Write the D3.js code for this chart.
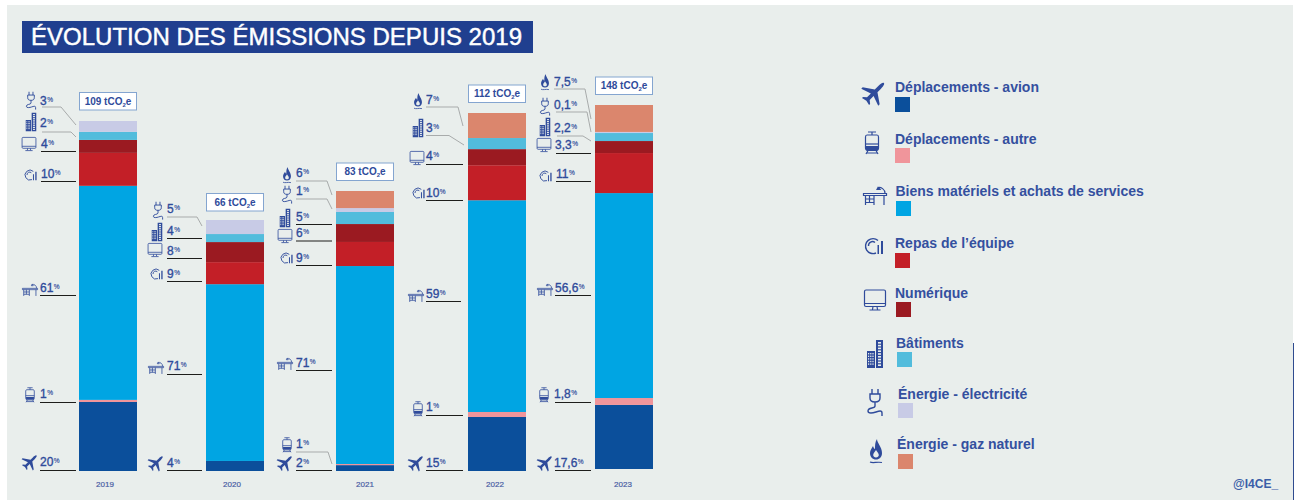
<!DOCTYPE html>
<html lang="fr">
<head>
<meta charset="utf-8">
<style>
html,body{margin:0;padding:0;background:#fff}
svg{display:block}
text{font-family:"Liberation Sans",Arial,sans-serif}
</style>
<script src="https://cdn.jsdelivr.net/npm/d3@7/dist/d3.min.js"></script>
</head>
<body>
<svg id="chart" width="1294" height="500"></svg>
<script>
// ---------- DATA ----------
const years = ["2019","2020","2021","2022","2023"];
const totals = [109,66,83,112,148];
const title = "ÉVOLUTION DES ÉMISSIONS DEPUIS 2019";
const credit = "@I4CE_";
const seriesKeys = ["avion","autre","biens","repas","num","bat","elec","gaz"];
const seriesNames = ["Déplacements - avion","Déplacements - autre","Biens matériels et achats de services","Repas de l’équipe","Numérique","Bâtiments","Énergie - électricité","Énergie - gaz naturel"];
const seriesColors = ["#0b4f9b","#f0959b","#00a5e3","#c31f27","#9b1a21","#52bcdc","#c8cbe6","#db866d"];

// share of each bar (%)
const avion = [19.7,4.0,2.1,15.1,17.6];
const autre = [0.6,0,0.4,1.4,1.9];
const biens = [61.1,70.5,70.7,59.2,56.3];
const repas = [9.4,8.8,8.6,9.8,11.0];
const num   = [3.7,8.0,6.4,4.5,3.3];
const bat   = [2.3,3.2,4.3,3.1,2.2];
const elec  = [3.1,5.6,1.4,0,0.3];
const gaz   = [0,0,6.1,7.0,7.4];

// printed labels
const labelsAvion = ["20","4","2","15","17,6"];
const labelsAutre = ["1",null,"1","1","1,8"];
const labelsBiens = ["61","71","71","59","56,6"];
const labelsRepas = ["10","9","9","10","11"];
const labelsNum   = ["4","8","6","4","3,3"];
const labelsBat   = ["2","4","5","3","2,2"];
const labelsElec  = ["3","5","1",null,"0,1"];
const labelsGaz   = [null,null,"6","7","7,5"];

const shares = {avion,autre,biens,repas,num,bat,elec,gaz};
const labels = {avion:labelsAvion,autre:labelsAutre,biens:labelsBiens,repas:labelsRepas,num:labelsNum,bat:labelsBat,elec:labelsElec,gaz:labelsGaz};

// ---------- LAYOUT ----------
const W = 1294, H = 500;
const INK = "#2f4b9b", PANEL = "#e9eeec";
const barWidth = 58, baseline = 471;
const barLeft = d3.scaleOrdinal(years,[79,206,336,468,595]);
const baseShift = d3.scaleOrdinal(years,[0,0,0,0,-2]);
// the bars of the original are not on a linear axis: piecewise scale from total to bar height
const barHeight = d3.scaleLinear().domain([0,66,83,109,112,148]).range([0,251,280,350,358,364]);
const boxTop = d3.scaleOrdinal(years,[92.5,193.5,163,85,77]);
const yearX = d3.scaleOrdinal(years,[105,232,365,495,623]);

// per label: text x, text baseline, icon centre, line points
const annot = {
 "2019":{
  elec:[40,105,31,101,[[42,107],[61,107],[76,125]]],
  bat:[40,127,31,122,[[42,132],[71,132],[76,137]]],
  num:[41,148,29,144,[[41,151.5],[76,151.5]]],
  repas:[41,178,30,175,[[41,181.5],[76,181.5]]],
  biens:[40,292,30,290,[[40,295.5],[76,295.5]]],
  autre:[40,398,30,395,[[40,402.5],[76,402.5]]],
  avion:[40,466,30,462,[[40,470.5],[76,470.5]]]},
 "2020":{
  elec:[167,213,158,211,[[167,217],[197,217],[202,226]]],
  bat:[167,235,157,232,[[167,238.5],[202,238.5]]],
  num:[167,255,155,250,[[167,258.5],[202,258.5]]],
  repas:[167,278,156,274,[[167,281.5],[202,281.5]]],
  biens:[167,370,156,368,[[167,374.5],[202,374.5]]],
  avion:[167,467,156,463,[[167,470.5],[202,470.5]]]},
 "2021":{
  gaz:[296,177,287,175,[[296,181],[327,181],[332,195]]],
  elec:[296,195,287,195,[[296,199],[327,199],[332,209]]],
  bat:[296,221,285,218,[[296,224.5],[332,224.5]]],
  num:[296,237,285,236,[[296,241],[332,241]]],
  repas:[296,262,286,258,[[296,265.5],[332,265.5]]],
  biens:[296,367,285,364,[[296,370.5],[332,370.5]]],
  autre:[296,448,287,445,[[296,452],[328,452],[332,464]]],
  avion:[296,467,285,463,[[296,470.5],[332,470.5]]]},
 "2022":{
  gaz:[426,104,418,101,[[426,107],[458,107],[463,126]]],
  bat:[426,132,418,128,[[426,135.5],[449,135.5],[464,145]]],
  num:[426,160,417,158,[[426,164.5],[463,164.5]]],
  repas:[426,197,418,193,[[426,200.5],[463,200.5]]],
  biens:[426,298,416,296,[[426,301.5],[461,301.5]]],
  autre:[426,411,418,409,[[426,415.5],[463,415.5]]],
  avion:[426,467,416,463,[[426,470.5],[463,470.5]]]},
 "2023":{
  gaz:[554,86,545,82,[[554,89],[585,89],[591,119]]],
  elec:[554,109,545,107,[[556,112],[587,112],[591,132]]],
  bat:[554,132,545,127,[[557,136],[583,136],[591,141]]],
  num:[555,149,544,145,[[556,153.5],[591,153.5]]],
  repas:[556,178,545,176,[[556,181.5],[591,181.5]]],
  biens:[555,292,545,290,[[555,295.5],[591,295.5]]],
  autre:[554,398,544,395,[[555,402.5],[591,402.5]]],
  avion:[554,467,545,463,[[555,470.5],[591,470.5]]]}
};
// legend: icon centre, text x & baseline, swatch x & y
const legendLayout = {
 avion:[874,93,895,92,895,97],
 autre:[872,143,895,144,895,148],
 biens:[875,196,895.5,196,896,201],
 repas:[873,246,895,248,895,253],
 num:[875,300,895,298,896,302],
 bat:[875,354,896,348,897,352],
 elec:[875,403,898,399,898,403],
 gaz:[876,451,897,449,898,454]
};

// ---------- ICONS (drawn at legend size, centred on 0,0) ----------
function drawIcon(g,key){
  const s = a=>g.append("path").attr("d",a).attr("fill","none").attr("stroke",INK).attr("stroke-width",1.2);
  const f = a=>g.append("path").attr("d",a).attr("fill",INK);
  if(key==="avion"){
    f("M0,-14 C1.4,-14 1.9,-11 1.9,-8 L1.9,-3 L12,4 L12,6 L1.9,2.5 L1.9,8 L5,10.5 L5,12 L0,10.8 L-5,12 L-5,10.5 L-1.9,8 L-1.9,2.5 L-12,6 L-12,4 L-1.9,-3 L-1.9,-8 C-1.9,-11 -1.4,-14 0,-14Z").attr("transform","rotate(45)");
  } else if(key==="autre"){
    s("M-4,-11H4M0,-11V-8M-5,-8H5C6,-8 6.5,-7 6.5,-6V5C6.5,6.5 5.5,7.5 4,7.5H-4C-5.5,7.5 -6.5,6.5 -6.5,5V-6C-6.5,-7 -6,-8 -5,-8ZM-4,7.5L-6,11M4,7.5L6,11M-5,10H5");
    s("M-6.5,1H6.5");
    f("M-6,3H6V7H-6Z");
  } else if(key==="biens"){
    s("M-11.5,-2.5H11.5V-0.5H-11.5ZM-9.5,-0.5V9M-1,-0.5V9M-9.5,3H-1M-9.5,6.5H-1M-5.5,-0.5V6.5M9,-0.5V9M10,-2.5C10,-7 6,-9 3,-8.5M3,-8.5L2,-6.5H5Z");
  } else if(key==="repas"){
    s("M5,-5.5A7.5,7.5 0 1 0 3,7M2,-3.5A4,4 0 0 0 -4.5,0").attr("stroke-width",1.4);
    f("M4.5,-1H6V8H4.5ZM8,-5H10V8H8Z");
  } else if(key==="num"){
    s("M-9,-10H9C10,-10 10.5,-9.5 10.5,-8.5V5C10.5,6 10,6.5 9,6.5H-9C-10,6.5 -10.5,6 -10.5,5V-8.5C-10.5,-9.5 -10,-10 -9,-10ZM-10.5,3.5H10.5M-2,6.5L-2.5,9.5M2,6.5L2.5,9.5M-5.5,10H5.5");
  } else if(key==="bat"){
    f("M1,-14H8V14H1Z M-8,-3H0V14H-8Z");
    for(let r=0;r<9;r++) g.append("rect").attr("x",3).attr("y",-12+r*2.8).attr("width",3).attr("height",1.6).attr("fill",PANEL);
    for(let r=0;r<5;r++) for(let c=0;c<3;c++) g.append("rect").attr("x",-7+c*2.2).attr("y",-1+r*2.6).attr("width",1.2).attr("height",1.4).attr("fill",PANEL);
  } else if(key==="elec"){
    s("M-3,-14V-9M3,-14V-9M-5,-9H5V-5C5,-2 3,-1 0,-1C-3,-1 -5,-2 -5,-5ZM0,-1V3C0,6 -7,4 -7,8C-7,11 -2,10 1,9C4,8 7,7 7,10L7,13").attr("stroke-width",1.4);
  } else if(key==="gaz"){
    f("M1,-12 C1,-8 6,-4 6,2 C6,6 3.5,8.5 0,8.5 C-3.5,8.5 -6,6 -6,2 C-6,-1 -4,-3 -3,-5 C-2.5,-3 -1.5,-2 -1,-2 C-1,-6 -1,-9 1,-12Z");
    g.append("path").attr("d","M0,-1 C1,1 2.8,2 2.8,4 C2.8,5.5 1.5,6.5 0,6.5 C-1.5,6.5 -2.8,5.5 -2.8,4 C-2.8,2 -1,1 0,-1Z").attr("fill",PANEL);
    s("M-6,11 C-3,12.5 1,10.5 6,11.5");
  }
}

// ---------- DRAW ----------
const svg = d3.select("#chart");
svg.append("rect").attr("x",7).attr("y",5).attr("width",W-8).attr("height",H-5).attr("fill",PANEL);
svg.append("line").attr("x1",1293.5).attr("x2",1293.5).attr("y1",343).attr("y2",H).attr("stroke","#2f4b8f").attr("stroke-width",1);

svg.append("rect").attr("x",22).attr("y",21).attr("width",511).attr("height",32).attr("fill","#203f8f");
svg.append("text").attr("x",31).attr("y",45).attr("fill","#fff").attr("stroke","#fff").attr("stroke-width",0.45)
  .attr("font-size",24).attr("textLength",491).attr("lengthAdjust","spacingAndGlyphs").text(title);

// stacked bars
const rows = years.map((y,i)=>{const r={year:y,total:totals[i]};seriesKeys.forEach(k=>r[k]=shares[k][i]);return r;});
const stacked = d3.stack().keys(seriesKeys).offset(d3.stackOffsetExpand)(rows);
const color = d3.scaleOrdinal(seriesKeys,seriesColors);
const segY = d=>d3.scaleLinear().domain([0,1]).range([baseline+baseShift(d.data.year),baseline+baseShift(d.data.year)-barHeight(d.data.total)]);

svg.append("g").selectAll("g").data(stacked).join("g").attr("fill",s=>color(s.key))
  .selectAll("rect").data(s=>s).join("rect")
  .attr("x",d=>barLeft(d.data.year)).attr("width",barWidth)
  .attr("y",d=>segY(d)(d[1])).attr("height",d=>segY(d)(d[0])-segY(d)(d[1]));

// total boxes
years.forEach((y,i)=>{
  const g = svg.append("g");
  g.append("rect").attr("x",barLeft(y)+0.5).attr("y",boxTop(y)).attr("width",barWidth-1).attr("height",17.5)
    .attr("fill","#fff").attr("stroke","#84a5d0").attr("stroke-width",1);
  const t = g.append("text").attr("x",barLeft(y)+barWidth/2).attr("y",boxTop(y)+12).attr("text-anchor","middle")
    .attr("font-size",10).attr("font-weight",700).attr("fill",INK);
  t.append("tspan").text(totals[i]+" tCO");
  t.append("tspan").attr("font-size",6).attr("dy",2).text("2");
  t.append("tspan").attr("dy",-2).text("e");
  svg.append("text").attr("x",yearX(y)).attr("y",487).attr("text-anchor","middle").attr("font-size",8)
    .attr("stroke","#4a5fa5").attr("stroke-width",0.2).attr("fill","#4a5fa5").text(y);
});

// annotations
years.forEach((y,i)=>{
  seriesKeys.forEach(k=>{
    const lab = labels[k][i];
    if(lab===null) return;
    const [tx,ty,ix,iy,pts] = annot[y][k];
    const t = svg.append("text").attr("x",tx).attr("y",ty).attr("font-size",12).attr("fill",INK).attr("stroke",INK).attr("stroke-width",0.35);
    t.append("tspan").text(lab);
    t.append("tspan").attr("font-size",6.5).attr("dy",-3).attr("dx",0.5).attr("stroke-width",0.15).text("%");
    drawIcon(svg.append("g").attr("transform",`translate(${ix},${iy}) scale(0.66)`),k);
    svg.append("path").attr("d",d3.line()(pts)).attr("fill","none")
      .attr("stroke",pts.length>2?"#a8abab":"#1d1d1b").attr("stroke-width",1);
  });
});

// legend
seriesKeys.forEach((k,i)=>{
  const [ix,iy,tx,ty,sx,sy] = legendLayout[k];
  drawIcon(svg.append("g").attr("transform",`translate(${ix},${iy})`),k);
  svg.append("text").attr("x",tx).attr("y",ty).attr("font-size",14).attr("font-weight",700).attr("fill","#34509f").text(seriesNames[i]);
  svg.append("rect").attr("x",sx).attr("y",sy).attr("width",15).attr("height",15).attr("fill",seriesColors[i]);
});

svg.append("text").attr("x",1233).attr("y",488).attr("font-size",12).attr("font-weight",700).attr("fill","#3a5ea8").text(credit);
</script>
</body>
</html>
